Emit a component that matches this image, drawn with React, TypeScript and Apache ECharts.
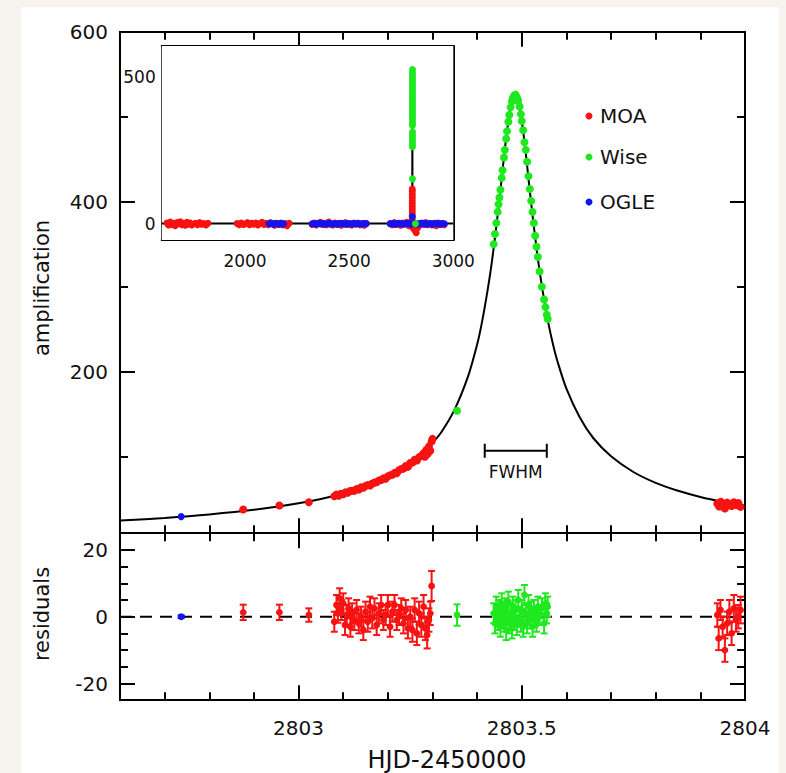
import React, { useEffect, useRef } from "react";
import * as echarts from "echarts";

// ---------- axis ranges & ticks ----------
const X_RANGE = [2802.6, 2804.0];
const X_MAJOR = [2803, 2803.5, 2804];
const X_MINOR = [2802.7, 2802.8, 2802.9, 2803.1, 2803.2, 2803.3, 2803.4, 2803.6, 2803.7, 2803.8, 2803.9];
const AMP_RANGE = [10, 600];
const AMP_MAJOR = [200, 400, 600];
const AMP_MINOR = [100, 300, 500];
const RES_RANGE = [-25, 25];
const RES_MAJOR = [-20, 0, 20];
const RES_MINOR = [-15, -10, -5, 5, 10, 15];
const INSET_X_RANGE = [1600, 3000];
const INSET_X_MAJOR = [2000, 2500, 3000];
const INSET_X_MINOR = [1700, 1800, 1900, 2100, 2200, 2300, 2400, 2600, 2700, 2800, 2900];
const INSET_Y_RANGE = [-55, 605];
const INSET_Y_MAJOR = [0, 500];
const INSET_Y_MINOR = [100, 200, 300, 400];

// ---------- model curve ----------
const MODEL_CURVE = [
  [2802.6, 24.8], [2802.7, 28.0], [2802.8, 32.1], [2802.9, 37.5], [2803.0, 45.2], [2803.05, 50.3],
  [2803.1, 56.8], [2803.15, 65.2], [2803.2, 76.4], [2803.25, 92.2], [2803.28, 105], [2803.3, 116],
  [2803.32, 129], [2803.35, 156], [2803.38, 195], [2803.4, 232], [2803.41, 256], [2803.42, 285],
  [2803.43, 318], [2803.44, 358], [2803.45, 403], [2803.46, 452], [2803.465, 475], [2803.47, 495],
  [2803.475, 512], [2803.48, 522], [2803.485, 526], [2803.49, 522], [2803.495, 512], [2803.5, 495],
  [2803.505, 475], [2803.51, 452], [2803.52, 403], [2803.53, 358], [2803.54, 318], [2803.55, 285],
  [2803.56, 256], [2803.57, 232], [2803.58, 212], [2803.6, 180], [2803.63, 146], [2803.66, 122],
  [2803.7, 100.5], [2803.75, 82], [2803.8, 69.2], [2803.85, 59.9], [2803.9, 52.7], [2803.95, 47.1],
  [2804.0, 42.6],
];

// ---------- photometry (HJD-2450000, amplification) ----------
const MOA_POINTS = [
  [2802.876, 37.8], [2802.957, 42.5], [2803.023, 46.5],
  [2803.08, 53.5], [2803.085, 55.5], [2803.09, 54], [2803.095, 56.5], [2803.1, 55.8], [2803.105, 58],
  [2803.11, 57.5], [2803.115, 59.5], [2803.12, 60], [2803.125, 59.8], [2803.13, 62], [2803.135, 61.5],
  [2803.14, 64], [2803.145, 63.5], [2803.15, 65.5], [2803.155, 66.8], [2803.16, 66], [2803.165, 68.5],
  [2803.17, 69.5], [2803.175, 70], [2803.18, 72], [2803.185, 72.5], [2803.19, 74.5], [2803.195, 74],
  [2803.2, 77], [2803.205, 78], [2803.21, 78.8], [2803.215, 81], [2803.22, 80.5], [2803.225, 84],
  [2803.23, 85.5], [2803.235, 86], [2803.24, 89], [2803.245, 88], [2803.25, 92.5], [2803.255, 93],
  [2803.26, 96.5], [2803.265, 95.5], [2803.27, 99.5], [2803.275, 101], [2803.28, 104], [2803.283, 100],
  [2803.286, 108], [2803.289, 103], [2803.292, 112], [2803.295, 107], [2803.298, 118], [2803.3, 121],
  [2803.938, 45], [2803.942, 41.5], [2803.946, 47], [2803.95, 43.5], [2803.955, 39], [2803.96, 46],
  [2803.965, 44], [2803.97, 42], [2803.975, 46.5], [2803.98, 43], [2803.985, 45.5], [2803.99, 41],
];
const WISE_POINTS = [
  [2803.355, 154],
  [2803.437, 350], [2803.44, 362], [2803.443, 375], [2803.446, 388], [2803.448, 397], [2803.45, 405],
  [2803.452, 414], [2803.455, 428], [2803.457, 437], [2803.46, 452], [2803.462, 461], [2803.465, 474],
  [2803.467, 483], [2803.47, 494], [2803.472, 502], [2803.475, 511], [2803.478, 518], [2803.48, 522],
  [2803.483, 525], [2803.486, 526], [2803.489, 523], [2803.492, 519], [2803.495, 512], [2803.498, 503],
  [2803.5, 495], [2803.503, 484], [2803.506, 470], [2803.509, 461], [2803.512, 447], [2803.515, 430],
  [2803.518, 415], [2803.521, 401], [2803.524, 388], [2803.527, 375], [2803.53, 360], [2803.533, 347],
  [2803.536, 335], [2803.54, 318], [2803.545, 300], [2803.55, 285], [2803.553, 276], [2803.556, 267],
  [2803.558, 262],
];
const OGLE_POINTS = [[2802.737, 29.5]];

// ---------- residuals [t, residual, error] ----------
const MOA_RESID = [
  [2802.876, 1.3, 2.3], [2802.957, 1.3, 2.3], [2803.023, 0.5, 2],
  [2803.08, -1.5, 3], [2803.085, 3.5, 3], [2803.088, 1, 2.8], [2803.092, 5.5, 3], [2803.096, 2, 3],
  [2803.1, 4, 3], [2803.104, -2.5, 3], [2803.108, 0.5, 3], [2803.112, 2.5, 3], [2803.116, -3, 3],
  [2803.12, 1, 3], [2803.125, -1, 3], [2803.13, 2, 3], [2803.135, -2, 3], [2803.14, 0, 3],
  [2803.145, -4, 3], [2803.15, 1.5, 3], [2803.155, -1.5, 3], [2803.16, 3, 3], [2803.165, -0.5, 3],
  [2803.17, 2.5, 3], [2803.175, -2.5, 3], [2803.18, 1, 3], [2803.185, 3.5, 3], [2803.19, -1, 3],
  [2803.195, 0.5, 3], [2803.2, 3.5, 3], [2803.205, -3, 3], [2803.21, 1.5, 3], [2803.215, 3.5, 3],
  [2803.22, -1, 3], [2803.225, 0.5, 3], [2803.23, 2.5, 3], [2803.235, -2, 3], [2803.24, 2, 3],
  [2803.245, -3.5, 3], [2803.25, 0, 3], [2803.255, -4, 3.5], [2803.26, 2, 3.5], [2803.265, -5, 3.5],
  [2803.27, 1, 3.5], [2803.275, -2.5, 3.5], [2803.28, 3, 3.5], [2803.284, -3.5, 3.5], [2803.288, -5.5, 4],
  [2803.292, -1, 3.5], [2803.295, 1, 3.5], [2803.298, 9.2, 4.5],
  [2803.938, 0.5, 3.5], [2803.941, -6.5, 3.5], [2803.945, 2, 3], [2803.95, -3, 3], [2803.955, -10, 3.5],
  [2803.96, -2, 3.5], [2803.965, 1.5, 3.5], [2803.97, -5, 3.5], [2803.975, 2.5, 4], [2803.98, -1, 3.5],
  [2803.985, 0, 3.5], [2803.99, 2, 4],
];
const WISE_RESID = [
  [2803.355, 0.5, 3.2],
  [2803.437, 1, 3], [2803.44, -2, 3], [2803.443, 3, 3], [2803.446, -1, 3], [2803.448, 2, 3],
  [2803.45, 0, 3], [2803.452, -3, 3], [2803.455, 4, 3], [2803.457, 1, 3], [2803.46, -1.5, 3],
  [2803.462, 2.5, 3], [2803.465, -4, 3], [2803.467, 0.5, 3], [2803.47, 4.5, 3], [2803.472, -2, 3],
  [2803.475, 1, 3], [2803.478, -3.5, 3], [2803.48, 3, 3], [2803.483, -1, 3], [2803.486, 2, 3],
  [2803.489, -2.5, 3], [2803.492, 5, 3], [2803.495, 0, 3], [2803.498, -1.5, 3], [2803.5, 2, 3],
  [2803.503, -3, 3], [2803.506, 6.5, 3], [2803.509, 1, 3], [2803.512, -2, 3], [2803.515, 3.5, 3],
  [2803.518, -0.5, 3], [2803.521, 1.5, 3], [2803.524, -3, 3], [2803.527, 2, 3], [2803.53, 0, 3],
  [2803.533, -1.5, 3], [2803.536, 3, 3], [2803.54, 0.5, 3], [2803.545, 2.5, 3], [2803.55, -2, 3],
  [2803.553, 4, 3], [2803.556, 1, 3], [2803.558, 3, 3],
];
const OGLE_RESID = [[2802.737, 0, 0.4]];
const ZERO_LINE = [[2802.6, 0], [2804.0, 0]];

// ---------- FWHM marker ----------
const FWHM_RANGE = [2803.417, 2803.556];
const FWHM_LEVEL = 107;

// ---------- inset: whole season ----------
const INSET_MODEL = [
  [1600, 1], [2790, 1], [2800, 2], [2802, 8], [2803, 45], [2803.48, 526], [2804, 42], [2806, 8],
  [2815, 2], [3000, 1],
];
const MOA_INSET = [
  [1625, 3], [1633, -4], [1641, 6], [1649, -2], [1657, 2], [1665, -6], [1673, 4], [1681, 0], [1689, 7],
  [1697, -3], [1705, 2], [1713, -5], [1721, 5], [1729, -1], [1737, 3], [1745, -4],
  [1762, 2], [1772, -3], [1782, 4], [1792, -1], [1802, 1], [1812, -4], [1822, 2],
  [1962, 1], [1972, -3], [1982, 3], [1992, -2], [2002, 0], [2012, 4], [2022, -3], [2032, 2], [2042, -1],
  [2052, 3], [2062, -4], [2072, 1], [2082, 5], [2092, -2], [2102, 2], [2112, -3], [2122, 4], [2132, 0],
  [2142, -5], [2152, 2], [2162, -2], [2172, 3], [2182, -4], [2192, 1], [2202, -6], [2212, 2],
  [2322, -2], [2332, 3], [2342, -4], [2352, 1], [2362, 5], [2372, -2], [2382, 2], [2392, -3], [2402, 6],
  [2412, 0], [2422, -4], [2432, 3], [2442, -1], [2452, 2], [2462, -5], [2472, 1], [2482, 4], [2492, -2],
  [2502, 0], [2512, -4], [2522, 3], [2532, -1], [2542, 2], [2552, -3], [2562, 1], [2572, -5], [2582, 2],
  [2697, 1], [2707, -3], [2717, 4], [2727, -2], [2737, 2], [2747, -5], [2757, 3], [2767, -1], [2777, 5],
  [2787, -6], [2795, 2], [2803, -8], [2808, -15], [2815, -22], [2822, -30], [2830, -12], [2838, -5],
  [2848, 3], [2858, -2], [2868, 4], [2878, -3], [2888, 1], [2898, -4], [2908, 2], [2918, -6], [2928, 3],
  [2938, -2], [2948, 1], [2956, -3],
  [2803, 10], [2803, 20], [2803, 30], [2803, 40], [2803, 50], [2803, 60], [2803, 70], [2803, 80],
  [2803, 90], [2803, 100], [2803, 110], [2803, 118],
];
const OGLE_INSET = [
  [2115, 0], [2125, 1], [2135, -1], [2145, 2], [2155, 0], [2165, -1], [2175, 1], [2185, 0],
  [2322, 0], [2332, 1], [2342, -1], [2352, 2], [2362, 0], [2372, 1], [2382, -1], [2392, 0], [2402, 2],
  [2412, -1], [2422, 0], [2432, 1], [2442, -1], [2452, 0], [2462, 2], [2472, 0], [2482, -1], [2492, 1],
  [2502, 0], [2512, -1], [2522, 1], [2532, 0], [2542, 2], [2552, -1], [2562, 0], [2572, 1], [2582, 0],
  [2697, 0], [2707, 1], [2717, -1], [2727, 0], [2737, 2], [2747, 0], [2757, -1], [2767, 1], [2777, 0],
  [2787, 2], [2797, -1], [2807, 1], [2817, 0], [2827, -1], [2837, 1], [2847, 0], [2857, 2], [2867, -1],
  [2877, 0], [2887, 1], [2897, -1], [2907, 0], [2917, 2], [2927, 0], [2937, -1], [2947, 1], [2957, 0],
  [2803, 25],
];
const WISE_INSET = [
  [2818, 0], [2804, 153],
  [2804, 262], [2804, 272], [2804, 282], [2804, 292], [2804, 302], [2804, 312],
  [2804, 335], [2804, 345], [2804, 355], [2804, 365], [2804, 375], [2804, 385], [2804, 395], [2804, 405],
  [2804, 415], [2804, 425], [2804, 435], [2804, 445], [2804, 455], [2804, 465], [2804, 475], [2804, 485],
  [2804, 495], [2804, 505], [2804, 515], [2804, 525],
];

const LEGEND = [
  { name: "MOA", color: "#f81212" },
  { name: "Wise", color: "#1ee81e" },
  { name: "OGLE", color: "#1414f0" },
];
const RED = LEGEND[0].color, GREEN = LEGEND[1].color, BLUE = LEGEND[2].color;
const FONT = "DejaVu Sans";
const plain = (v: number) => String(v);

function axis(gridIndex: number, position: string, range: number[], ticks: number[], len: number, width: number,
  showLine: boolean, labels?: number[], labelOpts?: any) {
  return {
    type: "value", gridIndex, position, min: range[0], max: range[1],
    axisLine: { show: showLine, onZero: false, lineStyle: { color: "#000", width } },
    axisTick: { show: true, inside: true, length: len, customValues: ticks, lineStyle: { color: "#000", width } },
    axisLabel: labels
      ? { show: true, customValues: labels, formatter: plain, color: "#111", fontFamily: FONT, ...labelOpts }
      : { show: false },
    splitLine: { show: false },
    minorTick: { show: false },
    axisPointer: { show: false },
  };
}

function errRender(color: string) {
  return (params: any, api: any) => {
    const x = api.value(0), y = api.value(1), e = api.value(2);
    const c = api.coord([x, y]);
    const hi = api.coord([x, y + e]);
    const lo = api.coord([x, y - e]);
    const cw = 3.5;
    const style = { stroke: color, lineWidth: 2 };
    return {
      type: "group",
      children: [
        { type: "line", shape: { x1: c[0], y1: hi[1], x2: c[0], y2: lo[1] }, style },
        { type: "line", shape: { x1: c[0] - cw, y1: hi[1], x2: c[0] + cw, y2: hi[1] }, style },
        { type: "line", shape: { x1: c[0] - cw, y1: lo[1], x2: c[0] + cw, y2: lo[1] }, style },
        { type: "circle", shape: { cx: c[0], cy: c[1], r: 3.4 }, style: { fill: color } },
      ],
    };
  };
}

export default function App() {
  const ref = useRef<HTMLDivElement>(null);
  useEffect(() => {
    if (!ref.current) return;
    const chart = echarts.init(ref.current, undefined, { renderer: "svg" });
    const tickFont = { fontSize: 20 };
    const dot = (color: string) => ({ color, opacity: 1 });
    const option: any = {
      animation: false,
      backgroundColor: "transparent",
      grid: [
        { left: 120, top: 31.7, width: 625, height: 501.5, outerBoundsMode: "none", containLabel: false },
        { left: 120, top: 533.2, width: 625, height: 167, outerBoundsMode: "none", containLabel: false },
        { left: 161.7, top: 46, width: 291.6, height: 194, outerBoundsMode: "none", containLabel: false,
          show: true, backgroundColor: "#fff", borderWidth: 0, z: 1 },
      ],
      xAxis: [
        axis(0, "bottom", X_RANGE, X_MAJOR, 15, 2, true),
        axis(0, "bottom", X_RANGE, X_MINOR, 8, 2, false),
        axis(0, "top", X_RANGE, X_MAJOR, 15, 2, true),
        axis(0, "top", X_RANGE, X_MINOR, 8, 2, false),
        axis(1, "bottom", X_RANGE, X_MAJOR, 15, 2, true, X_MAJOR, { ...tickFont, margin: 18 }),
        axis(1, "bottom", X_RANGE, X_MINOR, 8, 2, false),
        axis(1, "top", X_RANGE, X_MAJOR, 15, 2, true),
        axis(1, "top", X_RANGE, X_MINOR, 8, 2, false),
        axis(2, "bottom", INSET_X_RANGE, INSET_X_MAJOR, 10, 2, true, INSET_X_MAJOR, { fontSize: 17, margin: 12 }),
        axis(2, "bottom", INSET_X_RANGE, INSET_X_MINOR, 5.5, 2, false),
        axis(2, "top", INSET_X_RANGE, INSET_X_MAJOR, 10, 2, true),
        axis(2, "top", INSET_X_RANGE, INSET_X_MINOR, 5.5, 2, false),
      ],
      yAxis: [
        axis(0, "left", AMP_RANGE, AMP_MAJOR, 15, 2, true, AMP_MAJOR, { ...tickFont, margin: 12 }),
        axis(0, "left", AMP_RANGE, AMP_MINOR, 8, 2, false),
        axis(0, "right", AMP_RANGE, AMP_MAJOR, 15, 2, true),
        axis(0, "right", AMP_RANGE, AMP_MINOR, 8, 2, false),
        axis(1, "left", RES_RANGE, RES_MAJOR, 15, 2, true, RES_MAJOR, { ...tickFont, margin: 12 }),
        axis(1, "left", RES_RANGE, RES_MINOR, 8, 2, false),
        axis(1, "right", RES_RANGE, RES_MAJOR, 15, 2, true),
        axis(1, "right", RES_RANGE, RES_MINOR, 8, 2, false),
        axis(2, "left", INSET_Y_RANGE, INSET_Y_MAJOR, 10, 2, true, INSET_Y_MAJOR, { fontSize: 17, margin: 6 }),
        axis(2, "left", INSET_Y_RANGE, INSET_Y_MINOR, 5.5, 2, false),
        axis(2, "right", INSET_Y_RANGE, INSET_Y_MAJOR, 10, 2, true),
        axis(2, "right", INSET_Y_RANGE, INSET_Y_MINOR, 5.5, 2, false),
      ],
      series: [
        { type: "line", xAxisIndex: 0, yAxisIndex: 0, data: MODEL_CURVE, symbol: "none", smooth: 0.3,
          lineStyle: { color: "#000", width: 2 }, z: 2 },
        { type: "scatter", name: "MOA", xAxisIndex: 0, yAxisIndex: 0, data: MOA_POINTS, symbolSize: 8,
          itemStyle: dot(RED), z: 3 },
        { type: "scatter", name: "Wise", xAxisIndex: 0, yAxisIndex: 0, data: WISE_POINTS, symbolSize: 8,
          itemStyle: dot(GREEN), z: 3 },
        { type: "scatter", name: "OGLE", xAxisIndex: 0, yAxisIndex: 0, data: OGLE_POINTS, symbolSize: 7,
          itemStyle: dot(BLUE), z: 3 },
        {
          type: "custom", xAxisIndex: 0, yAxisIndex: 0, data: [[FWHM_RANGE[0], FWHM_RANGE[1], FWHM_LEVEL]],
          renderItem: (params: any, api: any) => {
            const a = api.coord([api.value(0), api.value(2)]);
            const b = api.coord([api.value(1), api.value(2)]);
            const st = { stroke: "#000", lineWidth: 2 };
            return {
              type: "group",
              children: [
                { type: "line", shape: { x1: a[0], y1: a[1], x2: b[0], y2: b[1] }, style: st },
                { type: "line", shape: { x1: a[0], y1: a[1] - 7, x2: a[0], y2: a[1] + 7 }, style: st },
                { type: "line", shape: { x1: b[0], y1: b[1] - 7, x2: b[0], y2: b[1] + 7 }, style: st },
                { type: "text", x: (a[0] + b[0]) / 2, y: a[1] + 21,
                  style: { text: "FWHM", align: "center", verticalAlign: "middle", fontSize: 17, fontFamily: FONT, fill: "#111" } },
              ],
            };
          },
          z: 3,
        },
        { type: "line", xAxisIndex: 4, yAxisIndex: 4, data: ZERO_LINE, symbol: "none",
          lineStyle: { color: "#000", width: 2, type: [12, 8] }, z: 2 },
        { type: "custom", xAxisIndex: 4, yAxisIndex: 4, data: OGLE_RESID, renderItem: errRender(BLUE), encode: { x: 0, y: 1 }, z: 3 },
        { type: "custom", xAxisIndex: 4, yAxisIndex: 4, data: MOA_RESID, renderItem: errRender(RED), encode: { x: 0, y: 1 }, z: 3 },
        { type: "custom", xAxisIndex: 4, yAxisIndex: 4, data: WISE_RESID, renderItem: errRender(GREEN), encode: { x: 0, y: 1 }, z: 3 },
        { type: "line", xAxisIndex: 8, yAxisIndex: 8, data: INSET_MODEL, symbol: "none",
          lineStyle: { color: "#000", width: 2 }, z: 4 },
        { type: "scatter", xAxisIndex: 8, yAxisIndex: 8, data: MOA_INSET, symbolSize: 7, itemStyle: dot(RED), z: 5 },
        { type: "scatter", xAxisIndex: 8, yAxisIndex: 8, data: OGLE_INSET, symbolSize: 7, itemStyle: dot(BLUE), z: 5 },
        { type: "scatter", xAxisIndex: 8, yAxisIndex: 8, data: WISE_INSET, symbolSize: 7, itemStyle: dot(GREEN), z: 5 },
      ],
      graphic: [
        ...LEGEND.flatMap((l, i) => {
          const y = [116, 157, 202][i];
          return [
            { type: "circle", shape: { cx: 589, cy: y, r: 3.5 }, style: { fill: l.color } },
            { type: "text", x: 600, y, style: { text: l.name, fontSize: 20, fontFamily: FONT, fill: "#111", align: "left", verticalAlign: "middle" } },
          ];
        }),
        { type: "text", x: 42, y: 288, rotation: Math.PI / 2,
          style: { text: "amplification", fontSize: 21, fontFamily: FONT, fill: "#111", align: "center", verticalAlign: "middle" } },
        { type: "text", x: 42, y: 614, rotation: Math.PI / 2,
          style: { text: "residuals", fontSize: 21, fontFamily: FONT, fill: "#111", align: "center", verticalAlign: "middle" } },
        { type: "text", x: 447, y: 760,
          style: { text: "HJD-2450000", fontSize: 24, fontFamily: FONT, fill: "#111", align: "center", verticalAlign: "middle" } },
      ],
    };
    chart.setOption(option);
    return () => chart.dispose();
  }, []);
  return (
    <div style={{ position: "fixed", left: 0, top: 0, width: 786, height: 773, background: "#f7f3ef" }}>
      <div style={{ position: "absolute", left: 21, top: 7, width: 758, height: 766, background: "#fff" }} />
      <div ref={ref} style={{ position: "absolute", left: 0, top: 0, width: 786, height: 773 }} />
    </div>
  );
}
